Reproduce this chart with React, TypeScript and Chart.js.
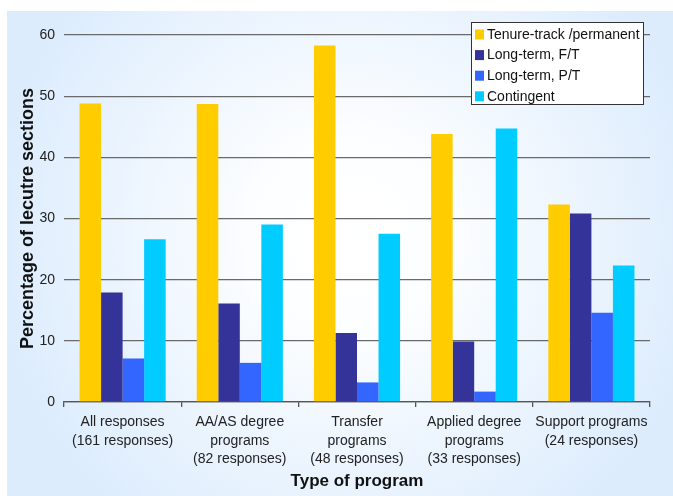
import React, { useEffect, useRef } from "react";
import { Chart, registerables } from "chart.js";

Chart.register(...registerables);

// Program categories (multi-line tick labels)
const programs: string[][] = [
  ["All responses", "(161 responses)"],
  ["AA/AS degree", "programs", "(82 responses)"],
  ["Transfer", "programs", "(48 responses)"],
  ["Applied degree", "programs", "(33 responses)"],
  ["Support programs", "(24 responses)"],
];

const seriesNames = ["Tenure-track /permanent", "Long-term, F/T", "Long-term, P/T", "Contingent"];
const seriesColors = ["#FFCC00", "#333399", "#3366FF", "#00CCFF"];

// Percentage of lecture sections per program
const tenureTrack = [48.8, 48.7, 58.3, 43.8, 32.3];
const longTermFT = [17.9, 16.1, 11.3, 9.9, 30.8];
const longTermPT = [7.1, 6.4, 3.2, 1.7, 14.6];
const contingent = [26.6, 29.0, 27.5, 44.7, 22.3];

const seriesValues = [tenureTrack, longTermFT, longTermPT, contingent];

const FONT = "'Liberation Sans', Arial, sans-serif";

// Soft blue panel behind the chart, fading to white toward the middle
const panelBackground = {
  id: "panelBackground",
  beforeDraw(chart: Chart) {
    const { ctx, width, height } = chart;
    ctx.save();
    ctx.fillStyle = "#ffffff";
    ctx.fillRect(0, 0, width, height);
    const g = ctx.createRadialGradient(350, 235, 0, 350, 235, 360);
    g.addColorStop(0, "#ffffff");
    g.addColorStop(0.25, "#fdfeff");
    g.addColorStop(1, "#dcecfd");
    ctx.fillStyle = g;
    ctx.fillRect(7, 11, width - 7, height - 11);
    ctx.restore();
  },
};

// Boxed legend in the upper-right corner of the plot
const boxedLegend = {
  id: "boxedLegend",
  afterDraw(chart: Chart) {
    const { ctx } = chart;
    const x0 = 471.5;
    const y0 = 22.5;
    const w = 172;
    const h = 82;
    ctx.save();
    ctx.fillStyle = "#ffffff";
    ctx.fillRect(x0, y0, w, h);
    ctx.strokeStyle = "#333333";
    ctx.lineWidth = 1;
    ctx.strokeRect(x0, y0, w, h);
    ctx.font = `14px ${FONT}`;
    ctx.textBaseline = "middle";
    ctx.textAlign = "left";
    chart.data.datasets.forEach((ds, i) => {
      const cy = 34.5 + i * 20.6;
      ctx.fillStyle = ds.backgroundColor as string;
      ctx.fillRect(475, cy - 5, 9, 10);
      ctx.fillStyle = "#111111";
      ctx.fillText(ds.label as string, 487, cy + 0.5);
    });
    ctx.restore();
  },
};

export default function App() {
  const canvasRef = useRef<HTMLCanvasElement | null>(null);

  useEffect(() => {
    if (!canvasRef.current) return;
    const chart = new Chart(canvasRef.current, {
      type: "bar",
      data: {
        labels: programs,
        datasets: seriesNames.map((name, i) => ({
          label: name,
          data: seriesValues[i],
          backgroundColor: seriesColors[i],
          borderWidth: 0,
          barPercentage: 1.0,
          categoryPercentage: 0.735,
        })),
      },
      options: {
        animation: false,
        responsive: false,
        layout: { padding: { top: 35, right: 23, left: 0, bottom: 0 } },
        plugins: {
          legend: { display: false },
          tooltip: { enabled: false },
        },
        scales: {
          x: {
            offset: true,
            grid: {
              offset: true,
              drawOnChartArea: false,
              drawTicks: true,
              tickLength: 5,
              color: "#555555",
              lineWidth: 1.3,
            },
            border: { display: true, color: "#555555", width: 1.3 },
            ticks: {
              padding: 6,
              color: "#222222",
              font: { family: FONT, size: 14, lineHeight: 1.32 },
              maxRotation: 0,
              autoSkip: false,
            },
            title: {
              display: true,
              text: "Type of program",
              color: "#111111",
              font: { family: FONT, size: 17, weight: "bold", lineHeight: 1.2 },
              padding: { top: 0, bottom: 4 },
            },
            afterFit(scale: any) {
              scale.height = 94;
            },
          },
          y: {
            min: 0,
            max: 60,
            ticks: {
              stepSize: 10,
              padding: 9,
              color: "#222222",
              font: { family: FONT, size: 14 },
            },
            grid: {
              drawTicks: false,
              color: "#6a6a6a",
              lineWidth: 1.3,
            },
            border: { display: false },
            title: {
              display: true,
              text: "Percentage of lecutre sections",
              color: "#111111",
              font: { family: FONT, size: 18, weight: "bold", lineHeight: 1.2 },
              padding: { top: 17, bottom: 0 },
            },
            afterFit(scale: any) {
              scale.width = 64;
            },
          },
        },
      },
      plugins: [panelBackground, boxedLegend],
    });
    return () => chart.destroy();
  }, []);

  return (
    <div style={{ position: "absolute", left: 0, top: 0, width: 673, height: 496 }}>
      <canvas ref={canvasRef} width={673} height={496} style={{ display: "block" }} />
    </div>
  );
}
